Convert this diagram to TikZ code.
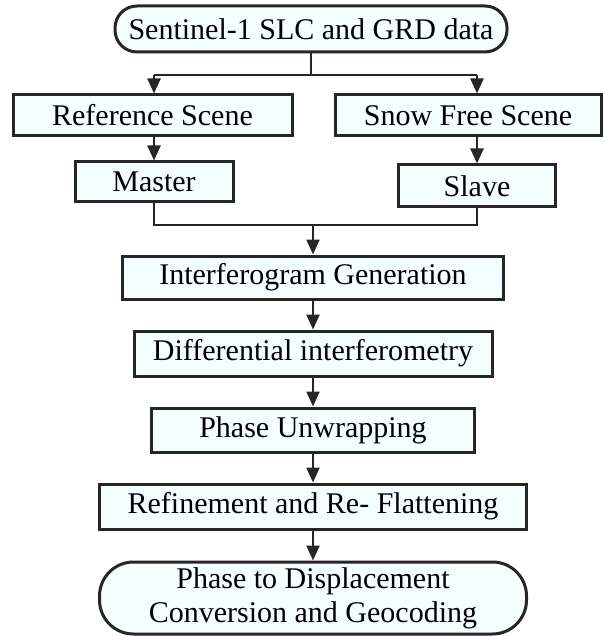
\documentclass[tikz,border=0pt]{standalone}
\usepackage{fontspec}
\setmainfont[Ligatures=TeX]{Liberation Serif}
\usetikzlibrary{positioning,arrows.meta}
\definecolor{boxFill}{HTML}{F4FDFF}
\definecolor{lineDark}{HTML}{262626}

\begin{document}
\begin{tikzpicture}[
    x=1pt, y=-1pt,
    block/.style={
        rectangle, draw=lineDark, fill=boxFill,
        align=center, inner sep=0pt,
        text centered, line width=3pt,
        font=\rmfamily\fontsize{30}{34}\selectfont
    },
    terminal/.style={block, rounded corners=22pt},
    arrow/.style={-{Triangle[width=13pt,length=15pt]}, line width=2.4pt, draw=lineDark},
    link/.style={line width=2.4pt, draw=lineDark}
]
  \useasboundingbox (0,0) rectangle (603,636);

  % Input data
  \node[terminal, minimum width=392pt, minimum height=46pt] (data) at (311, 29) {Sentinel-1 SLC and GRD data};

  % Two scenes
  \node[block, minimum width=279pt, minimum height=41pt] (refscene) at (152.5, 115.5) {Reference Scene};
  \node[block, minimum width=266pt, minimum height=41pt] (snowscene) at (468, 115.5) {Snow Free Scene};

  \node[block, minimum width=158pt, minimum height=40pt] (master) at (154, 182) {Master};
  \node[block, minimum width=157pt, minimum height=42pt] (slave) at (477, 186) {Slave};

  % Processing chain
  \node[block, minimum width=381pt, minimum height=43pt] (interf) at (313, 277.5) {Interferogram Generation};
  \node[block, minimum width=358pt, minimum height=45pt] (dinsar) at (313, 353.5) {Differential interferometry};
  \node[block, minimum width=323pt, minimum height=44pt] (unwrap) at (313, 430) {Phase Unwrapping};
  \node[block, minimum width=427pt, minimum height=45pt] (refine) at (313, 506.5) {Refinement and Re- Flattening};
  \node[terminal, rounded corners=34pt, minimum width=427pt, minimum height=72pt] (geocode) at (313, 598) {Phase to Displacement\\Conversion and Geocoding};

  % Split to the two scenes
  \coordinate (split) at (311, 75);
  \draw[link] (data.south) -- (split);
  \draw[link] (split -| master) -- (split -| slave);
  \draw[arrow] (split -| master) -- (master |- refscene.north);
  \draw[arrow] (split -| slave) -- (slave |- snowscene.north);

  \draw[arrow] (master |- refscene.south) -- (master.north);
  \draw[arrow] (slave |- snowscene.south) -- (slave.north);

  % Merge master and slave
  \coordinate (merge) at (313, 225);
  \draw[link] (master.south) |- (merge) -| (slave.south);
  \draw[arrow] (merge) -- (interf.north);

  \draw[arrow] (interf) -- (dinsar);
  \draw[arrow] (dinsar) -- (unwrap);
  \draw[arrow] (unwrap) -- (refine);
  \draw[arrow] (refine) -- (geocode);

\end{tikzpicture}
\end{document}
